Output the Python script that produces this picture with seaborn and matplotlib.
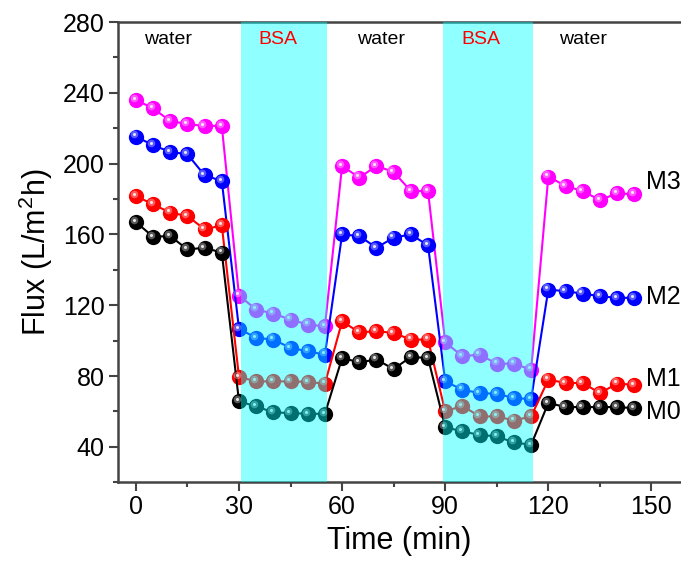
import matplotlib
matplotlib.use("Agg")
import matplotlib.pyplot as plt
import matplotlib.transforms as mtransforms
from matplotlib.ticker import MultipleLocator
import numpy as np
import pandas as pd
import seaborn as sns

# ---- data ----
time = [0, 5, 10, 15, 20, 25, 30, 35, 40, 45, 50, 55, 60, 65, 70, 75, 80, 85,
        90, 95, 100, 105, 110, 115, 120, 125, 130, 135, 140, 145]
m3 = [236.0, 231.2, 224.1, 222.3, 221.3, 221.3, 125.5, 117.6, 115.3, 111.9, 109.1, 108.1,
      198.7, 192.1, 198.7, 195.3, 184.5, 184.5, 99.1, 91.2, 92.1, 87.0, 87.0, 83.6,
      192.7, 187.4, 184.5, 179.4, 183.2, 182.7]
m2 = [215.3, 210.4, 206.6, 205.3, 193.4, 190.2, 106.7, 101.6, 100.6, 95.9, 94.0, 92.1,
      160.0, 159.1, 152.5, 158.2, 160.0, 153.8, 77.0, 72.3, 70.4, 70.0, 67.6, 67.0,
      128.9, 127.9, 126.6, 125.1, 124.2, 124.2]
m1 = [181.7, 177.0, 172.3, 170.4, 162.9, 165.1, 79.5, 77.0, 77.0, 77.0, 76.7, 75.7,
      110.9, 104.7, 105.3, 104.4, 100.6, 100.6, 60.0, 63.2, 57.2, 57.2, 54.9, 57.2,
      78.0, 76.1, 76.1, 70.4, 75.7, 75.1]
m0 = [167.0, 158.7, 159.1, 151.5, 152.5, 149.7, 65.7, 62.9, 59.5, 59.1, 58.7, 58.7,
      90.2, 87.8, 89.3, 84.0, 90.8, 90.2, 51.2, 48.7, 46.8, 45.9, 42.5, 41.2,
      64.8, 62.5, 62.5, 62.5, 62.5, 61.9]
series_names = ["M3", "M2", "M1", "M0"]
series_colors = ["#ff00ff", "#0000ff", "#ff0000", "#000000"]
series_label_y = [189.5, 124.5, 78.3, 59.7]

bsa_spans = [(30.6, 55.7), (89.4, 115.4)]
phase_texts = ["water", "BSA", "water", "BSA", "water"]
phase_x = [9.4, 41.3, 71.3, 100.4, 130.0]
phase_colors = ["#000000", "#ff0000", "#000000", "#ff0000", "#000000"]

# ---- style ----
sns.set_style("ticks")
plt.rcParams["font.family"] = ["Liberation Sans", "DejaVu Sans"]
plt.rcParams["mathtext.default"] = "regular"
plt.rcParams["text.color"] = "black"
plt.rcParams["axes.labelcolor"] = "black"
plt.rcParams["xtick.labelcolor"] = "black"
plt.rcParams["ytick.labelcolor"] = "black"

fig = plt.figure(figsize=(6.81, 5.72), dpi=100)
ax = fig.add_axes([118 / 681, 1 - 482.3 / 572, 1 - 118 / 681, (482.3 - 22) / 572])

df = pd.DataFrame({
    "Time": time * 4,
    "Flux": m3 + m2 + m1 + m0,
    "Membrane": sum([[n] * len(time) for n in series_names], []),
})

sns.lineplot(data=df, x="Time", y="Flux", hue="Membrane", hue_order=series_names,
             palette=dict(zip(series_names, series_colors)), marker="o",
             markersize=11, markeredgewidth=0, linewidth=1.5, legend=False, ax=ax,
             zorder=3)

# sphere highlight
off = mtransforms.ScaledTranslation(-1.6 / 72, 1.6 / 72, fig.dpi_scale_trans)
for vals in [m3, m2, m1, m0]:
    ax.plot(time, vals, ls="none", marker="o", ms=5.5, color="white", alpha=0.35,
            markeredgewidth=0, transform=ax.transData + off, zorder=4)
    ax.plot(time, vals, ls="none", marker="o", ms=2.2, color="white", alpha=0.85,
            markeredgewidth=0, transform=ax.transData + off, zorder=4)

for a, b in bsa_spans:
    ax.axvspan(a, b, color="#00ffff", alpha=0.44, lw=0, zorder=5)

for t, x, c in zip(phase_texts, phase_x, phase_colors):
    ax.text(x, 270, t, ha="center", va="center", fontsize=14, color=c, zorder=6)

for n, y in zip(series_names, series_label_y):
    ax.text(148.3, y, n, ha="left", va="center", fontsize=18, color="black", zorder=6)

ax.set_xlim(-5.2, 158.6)
ax.set_ylim(20, 280)
ax.xaxis.set_major_locator(MultipleLocator(30))
ax.xaxis.set_minor_locator(MultipleLocator(15))
ax.yaxis.set_major_locator(MultipleLocator(40))
ax.yaxis.set_minor_locator(MultipleLocator(20))
ax.set_yticks([40, 80, 120, 160, 200, 240, 280])
ax.tick_params(axis="both", which="major", direction="out", length=6.5, width=1.5,
               color="#444444", labelsize=18, pad=3)
ax.tick_params(axis="both", which="minor", direction="out", length=3.6, width=1.5,
               color="#444444")
ax.tick_params(axis="y", which="minor", left=True)
ax.tick_params(axis="x", which="minor", bottom=True)

for s in ["left", "bottom", "top"]:
    ax.spines[s].set_linewidth(1.8)
    ax.spines[s].set_color("#444444")
ax.spines["right"].set_visible(False)

ax.set_xlabel("Time (min)", fontsize=22, labelpad=5)
ax.set_ylabel("Flux (L/m$^2$h)", fontsize=22, labelpad=6)

fig.savefig("out.png", dpi=100)
